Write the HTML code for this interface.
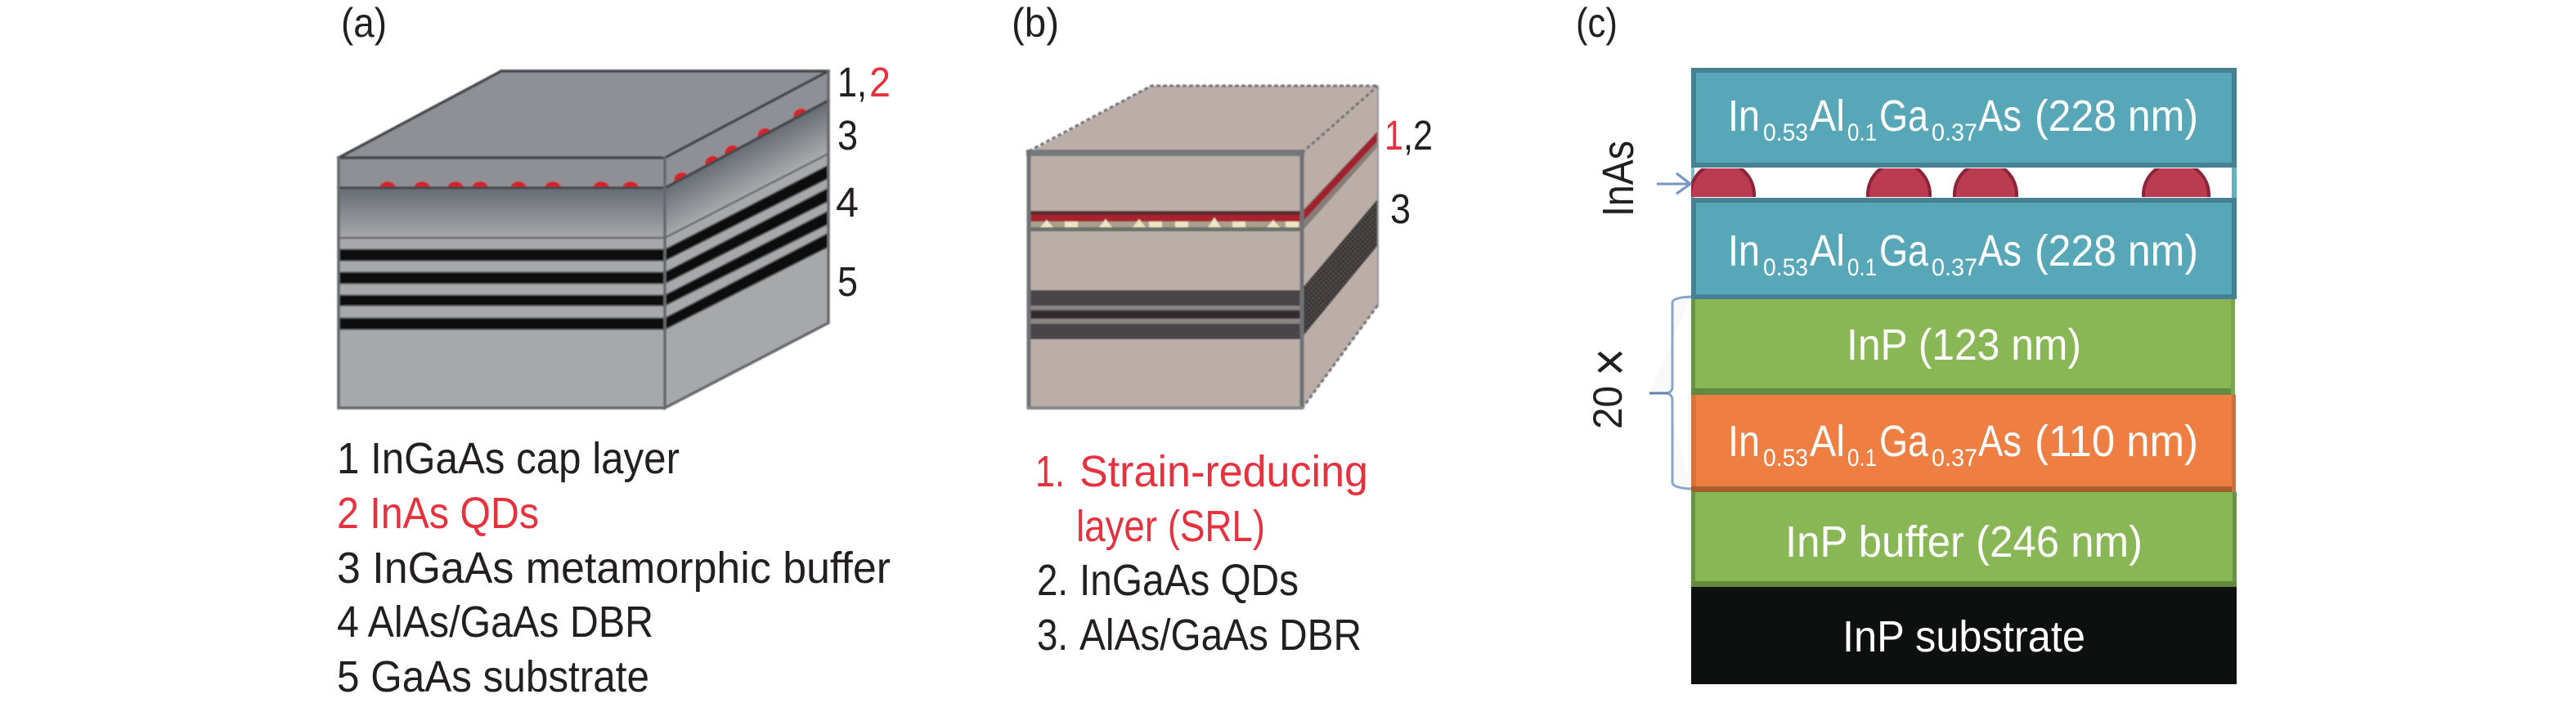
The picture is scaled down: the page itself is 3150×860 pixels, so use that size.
<!DOCTYPE html>
<html><head><meta charset="utf-8"><style>
html,body{margin:0;padding:0;background:#fff;width:3150px;height:860px;overflow:hidden}
svg{display:block}
text{font-family:"Liberation Sans",sans-serif}
.k{fill:#231f20}.r{fill:#e6323e}.w{fill:#fff}
</style></head><body>
<svg width="3150" height="860" viewBox="0 0 3150 860" xmlns="http://www.w3.org/2000/svg">
<defs>
<linearGradient id="fg" gradientUnits="userSpaceOnUse" x1="0" y1="232" x2="0" y2="291"><stop offset="0" stop-color="#686c75"/><stop offset="1" stop-color="#a7a8aa"/></linearGradient>
<linearGradient id="sg" gradientUnits="userSpaceOnUse" x1="900" y1="184" x2="925" y2="231"><stop offset="0" stop-color="#686c75"/><stop offset="1" stop-color="#a7a8aa"/></linearGradient>
<pattern id="dots" width="6" height="6" patternUnits="userSpaceOnUse"><rect width="6" height="6" fill="#3a3637"/><circle cx="1.5" cy="1.5" r="1.3" fill="#57534f"/><circle cx="4.5" cy="4.5" r="1.3" fill="#57534f"/></pattern>
<clipPath id="gap"><rect x="2068" y="206" width="667" height="35"/></clipPath>
<filter id="b" x="-5%" y="-5%" width="110%" height="110%"><feGaussianBlur stdDeviation="0.7"/></filter>
</defs>
<rect width="3150" height="860" fill="#fff"/>

<!-- (a) cube -->
<g filter="url(#b)">
<polygon points="414,193 613,87 1013,87 813,193" fill="#8f9095"/>
<rect x="414" y="193" width="399" height="306" fill="#a7a8aa"/>
<rect x="414" y="193" width="399" height="37" fill="#8f9095"/>
<rect x="414" y="232" width="399" height="59" fill="url(#fg)"/>
<polygon points="813,193 1013,87 1013,395 813,499" fill="#a7a8aa"/>
<polygon points="813,193 1013,87 1013,123 813,230" fill="#8f9095"/>
<polygon points="813,230 1013,123 1013,188 813,291" fill="url(#sg)"/>
<g fill="#111" stroke="#5a5b5e" stroke-width="1.5">
<rect x="414" y="305" width="399" height="14"/><rect x="414" y="333" width="399" height="14"/><rect x="414" y="361" width="399" height="13"/><rect x="414" y="389" width="399" height="14"/>
<polygon points="813,305 1013,202 1013,218 813,319"/><polygon points="813,333 1013,230 1013,246 813,347"/><polygon points="813,361 1013,258 1013,274 813,374"/><polygon points="813,389 1013,285 1013,302 813,403"/>
</g>
<g fill="#d4202c">
<path d="M464 230a10 8 0 0 1 20 0z"/><path d="M506 230a10 8 0 0 1 20 0z"/><path d="M547 230a10 8 0 0 1 20 0z"/><path d="M577 230a10 8 0 0 1 20 0z"/><path d="M624 230a10 8 0 0 1 20 0z"/><path d="M666 230a10 8 0 0 1 20 0z"/><path d="M725 230a10 8 0 0 1 20 0z"/><path d="M761 230a10 8 0 0 1 20 0z"/>
<g transform="translate(833,219) rotate(-28)"><path d="M-9 0a9 8 0 0 1 18 0z"/></g>
<g transform="translate(871,199) rotate(-28)"><path d="M-9 0a9 8 0 0 1 18 0z"/></g>
<g transform="translate(895,186) rotate(-28)"><path d="M-9 0a9 8 0 0 1 18 0z"/></g>
<g transform="translate(935,165) rotate(-28)"><path d="M-9 0a9 8 0 0 1 18 0z"/></g>
<g transform="translate(979,141) rotate(-28)"><path d="M-9 0a9 8 0 0 1 18 0z"/></g>
</g>
<g fill="none" stroke-linecap="square">
<path d="M414 193H813M414 230H813M813 193L1013 87M613 87H1013M414 193L613 87M813 230L1013 123" stroke="#45474b" stroke-width="3.5"/>
<path d="M414 291H813M813 291L1013 188" stroke="#6a6c70" stroke-width="2.5"/>
<path d="M414 193V499H813M813 193V499L1013 395V87" stroke="#66686d" stroke-width="3.5"/>
</g>
</g>

<!-- (b) cube -->
<g filter="url(#b)">
<polygon points="1258,187 1408,105 1685,105 1592,187" fill="#bbaea9"/>
<rect x="1258" y="187" width="334" height="313" fill="#bbaea9"/>
<polygon points="1592,187 1685,105 1685,373 1592,500" fill="#bbaea9"/>
<polygon points="1592,353 1685,243 1685,300 1592,413" fill="url(#dots)"/>
<polygon points="1592,258 1685,160 1685,179 1592,283" fill="#857d77"/>
<polygon points="1592,260 1685,160 1685,172 1592,272" fill="#a0212e"/>
<rect x="1258" y="355" width="334" height="60" fill="#48444a"/>
<rect x="1258" y="374" width="334" height="5" fill="#8a8583"/>
<rect x="1258" y="390" width="334" height="6" fill="#8a8583"/>
<rect x="1258" y="381" width="334" height="8" fill="#322c2d"/>
<rect x="1258" y="270" width="334" height="8" fill="#a6a18d"/>
<rect x="1258" y="278" width="334" height="5" fill="#6c7069"/>
<rect x="1258" y="258" width="334" height="5" fill="#5a2a2e"/>
<rect x="1258" y="263" width="334" height="8" fill="#a9212e"/>
<g fill="#ece5c6">
<path d="M1272 278l8-9 8 9zM1302 278v-7h16v7zM1344 278l8-10 8 10zM1385 278l8-10 8 10zM1405 278v-7h16v7zM1437 278v-7h16v7zM1477 278l8-12 8 12zM1507 278v-7h16v7zM1549 278l8-9 8 9zM1572 278v-7h16v7z"/>
</g>
<g fill="none">
<path d="M1258 185L1408 105H1685M1592 187L1685 105M1592 500L1685 373" stroke="#6f7071" stroke-width="3" stroke-dasharray="5 3"/>
<path d="M1255 187H1595" stroke="#77787b" stroke-width="8"/>
<path d="M1258 183V500M1592 183V500" stroke="#6f7175" stroke-width="5"/>
<path d="M1256 499H1594" stroke="#85868a" stroke-width="4"/>
<path d="M1685 105V373" stroke="#94949a" stroke-width="2"/>
</g>
</g>

<!-- (c) stack -->
<rect x="2068" y="83" width="667" height="122" fill="#57a7b8"/>
<rect x="2071" y="86" width="661" height="116" fill="none" stroke="#477f93" stroke-width="6"/>
<rect x="2068" y="205" width="4" height="37" fill="#7cc0cc"/>
<rect x="2729" y="205" width="6" height="37" fill="#5fb3c2"/>
<g clip-path="url(#gap)" fill="#bb3b50" stroke="#8c2338" stroke-width="4">
<ellipse cx="2106" cy="238" rx="39" ry="39"/>
<ellipse cx="2322" cy="238" rx="38" ry="39"/>
<ellipse cx="2428" cy="238" rx="38" ry="39"/>
<ellipse cx="2661" cy="238" rx="40" ry="39"/>
</g>
<rect x="2068" y="242" width="667" height="124" fill="#57a7b8"/>
<rect x="2071" y="245" width="661" height="118" fill="none" stroke="#477f93" stroke-width="6"/>
<rect x="2068" y="366" width="665" height="117" fill="#8ab755"/>
<rect x="2068" y="366" width="5" height="117" fill="#6a9248"/>
<rect x="2068" y="475" width="665" height="8" fill="#5f8a3f"/>
<rect x="2728" y="366" width="5" height="117" fill="#7da355"/>
<rect x="2068" y="483" width="665" height="119" fill="#ee7e41"/>
<rect x="2068" y="483" width="6" height="119" fill="#d5723c"/>
<rect x="2068" y="595" width="665" height="7" fill="#a3602f"/>
<rect x="2729" y="483" width="5" height="119" fill="#c9723f"/>
<rect x="2068" y="602" width="667" height="116" fill="#8ab755"/>
<rect x="2068" y="602" width="5" height="116" fill="#6a9248"/>
<rect x="2730" y="602" width="5" height="116" fill="#6a9248"/>
<rect x="2068" y="711" width="667" height="7" fill="#64883f"/>
<rect x="2068" y="718" width="667" height="119" fill="#0e100f"/>

<!-- arrow and brace -->
<path d="M2026 225H2066M2050 212L2067 225L2050 237" fill="none" stroke="#7394c4" stroke-width="3"/>
<path d="M2068 363Q2045 364 2045 370V473Q2045 480 2038 481H2017M2038 481Q2045 482 2045 490V590Q2045 597 2068 598" fill="#f9f9f9" stroke="#87a6cb" stroke-width="3"/>
<path d="M2017 481H2040" stroke="#5c85b5" stroke-width="3"/>

<!-- labels -->
<text x="417" y="45" font-size="50" textLength="56" lengthAdjust="spacingAndGlyphs" class="k">(a)</text>
<text x="1237" y="45" font-size="50" textLength="58" lengthAdjust="spacingAndGlyphs" class="k">(b)</text>
<text x="1927" y="45" font-size="50" textLength="51" lengthAdjust="spacingAndGlyphs" class="k">(c)</text>
<text x="1024" y="118" font-size="51" textLength="36" lengthAdjust="spacingAndGlyphs" class="k">1,</text>
<text x="1063" y="118" font-size="51" textLength="26" lengthAdjust="spacingAndGlyphs" class="r">2</text>
<text x="1024" y="183" font-size="51" textLength="25" lengthAdjust="spacingAndGlyphs" class="k">3</text>
<text x="1022" y="265" font-size="51" textLength="28" lengthAdjust="spacingAndGlyphs" class="k">4</text>
<text x="1024" y="362" font-size="51" textLength="25" lengthAdjust="spacingAndGlyphs" class="k">5</text>
<text x="1693" y="183" font-size="51" textLength="23" lengthAdjust="spacingAndGlyphs" class="r">1</text>
<text x="1716" y="183" font-size="51" textLength="36" lengthAdjust="spacingAndGlyphs" class="k">,2</text>
<text x="1700" y="273" font-size="51" textLength="25" lengthAdjust="spacingAndGlyphs" class="k">3</text>

<text x="412" y="579" font-size="54" textLength="419" lengthAdjust="spacingAndGlyphs" class="k">1 InGaAs cap layer</text>
<text x="412" y="646" font-size="54" textLength="247" lengthAdjust="spacingAndGlyphs" class="r">2 InAs QDs</text>
<text x="412" y="713" font-size="54" textLength="677" lengthAdjust="spacingAndGlyphs" class="k">3 InGaAs metamorphic buffer</text>
<text x="412" y="779" font-size="54" textLength="387" lengthAdjust="spacingAndGlyphs" class="k">4 AlAs/GaAs DBR</text>
<text x="412" y="846" font-size="54" textLength="382" lengthAdjust="spacingAndGlyphs" class="k">5 GaAs substrate</text>

<text x="1266" y="595" font-size="54" textLength="36" lengthAdjust="spacingAndGlyphs" class="r">1.</text>
<text x="1320" y="595" font-size="54" textLength="353" lengthAdjust="spacingAndGlyphs" class="r">Strain-reducing</text>
<text x="1316" y="662" font-size="54" textLength="231" lengthAdjust="spacingAndGlyphs" class="r">layer (SRL)</text>
<text x="1268" y="728" font-size="54" textLength="38" lengthAdjust="spacingAndGlyphs" class="k">2.</text>
<text x="1320" y="728" font-size="54" textLength="268" lengthAdjust="spacingAndGlyphs" class="k">InGaAs QDs</text>
<text x="1268" y="795" font-size="54" textLength="38" lengthAdjust="spacingAndGlyphs" class="k">3.</text>
<text x="1320" y="795" font-size="54" textLength="345" lengthAdjust="spacingAndGlyphs" class="k">AlAs/GaAs DBR</text>

<text transform="translate(1997,265) rotate(-90)" font-size="54" textLength="93" lengthAdjust="spacingAndGlyphs" class="k">InAs</text>
<text transform="translate(1983,525) rotate(-90)" font-size="50" textLength="53" lengthAdjust="spacingAndGlyphs" class="k">20</text>
<text transform="translate(1992,460) rotate(-90)" font-size="70" textLength="34" lengthAdjust="spacingAndGlyphs" class="k">×</text>

<g class="w">
<text x="2113" y="160" font-size="54" textLength="39" lengthAdjust="spacingAndGlyphs">In</text>
<text x="2156" y="172" font-size="30" textLength="55" lengthAdjust="spacingAndGlyphs">0.53</text>
<text x="2213" y="160" font-size="54" textLength="43" lengthAdjust="spacingAndGlyphs">Al</text>
<text x="2259" y="172" font-size="30" textLength="36" lengthAdjust="spacingAndGlyphs">0.1</text>
<text x="2298" y="160" font-size="54" textLength="60" lengthAdjust="spacingAndGlyphs">Ga</text>
<text x="2362" y="172" font-size="30" textLength="56" lengthAdjust="spacingAndGlyphs">0.37</text>
<text x="2419" y="160" font-size="54" textLength="53" lengthAdjust="spacingAndGlyphs">As</text>
<text x="2488" y="160" font-size="54" textLength="200" lengthAdjust="spacingAndGlyphs">(228 nm)</text>

<text x="2113" y="325" font-size="54" textLength="39" lengthAdjust="spacingAndGlyphs">In</text>
<text x="2156" y="337" font-size="30" textLength="55" lengthAdjust="spacingAndGlyphs">0.53</text>
<text x="2213" y="325" font-size="54" textLength="43" lengthAdjust="spacingAndGlyphs">Al</text>
<text x="2259" y="337" font-size="30" textLength="36" lengthAdjust="spacingAndGlyphs">0.1</text>
<text x="2298" y="325" font-size="54" textLength="60" lengthAdjust="spacingAndGlyphs">Ga</text>
<text x="2362" y="337" font-size="30" textLength="56" lengthAdjust="spacingAndGlyphs">0.37</text>
<text x="2419" y="325" font-size="54" textLength="53" lengthAdjust="spacingAndGlyphs">As</text>
<text x="2488" y="325" font-size="54" textLength="200" lengthAdjust="spacingAndGlyphs">(228 nm)</text>

<text x="2258" y="440" font-size="54" textLength="287" lengthAdjust="spacingAndGlyphs">InP (123 nm)</text>

<text x="2113" y="558" font-size="54" textLength="39" lengthAdjust="spacingAndGlyphs">In</text>
<text x="2156" y="570" font-size="30" textLength="55" lengthAdjust="spacingAndGlyphs">0.53</text>
<text x="2213" y="558" font-size="54" textLength="43" lengthAdjust="spacingAndGlyphs">Al</text>
<text x="2259" y="570" font-size="30" textLength="36" lengthAdjust="spacingAndGlyphs">0.1</text>
<text x="2298" y="558" font-size="54" textLength="60" lengthAdjust="spacingAndGlyphs">Ga</text>
<text x="2362" y="570" font-size="30" textLength="56" lengthAdjust="spacingAndGlyphs">0.37</text>
<text x="2419" y="558" font-size="54" textLength="53" lengthAdjust="spacingAndGlyphs">As</text>
<text x="2488" y="558" font-size="54" textLength="200" lengthAdjust="spacingAndGlyphs">(110 nm)</text>

<text x="2183" y="681" font-size="54" textLength="437" lengthAdjust="spacingAndGlyphs">InP buffer (246 nm)</text>
<text x="2253" y="797" font-size="54" textLength="297" lengthAdjust="spacingAndGlyphs">InP substrate</text>
</g>
</svg>
</body></html>
